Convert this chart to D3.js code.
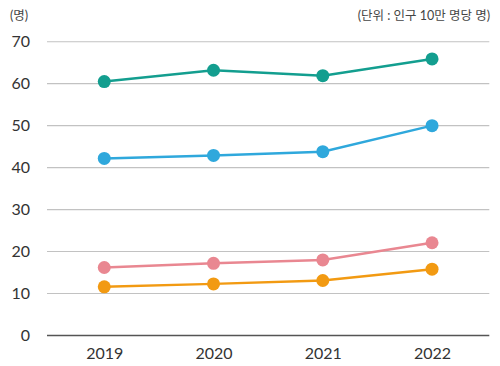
<!DOCTYPE html>
<html><head><meta charset="utf-8">
<script src="https://cdn.jsdelivr.net/npm/d3@7"></script>
<style>body{margin:0;background:#fff;} text{font-family:Lato,"Noto Sans CJK KR",sans-serif;}</style>
</head><body>
<svg id="c" width="500" height="366"></svg>
<script>
const years = ["2019","2020","2021","2022"];
const yTicks = [0,10,20,30,40,50,60,70];
const seriesTeal = [60.5, 63.2, 61.9, 65.9];
const seriesBlue = [42.2, 42.9, 43.8, 50.0];
const seriesPink = [16.2, 17.2, 18.0, 22.1];
const seriesOrange = [11.6, 12.3, 13.1, 15.8];
const colors = ["#139e8f", "#2fa8dc", "#e98791", "#f29a12"];
const unitLabel = "(명)";
const noteLabel = "(단위 : 인구 10만 명당 명)";

const svg = d3.select("#c");
const x = d3.scalePoint().domain(years).range([47, 489.3]).padding(0.524);
const y = d3.scaleLinear().domain([0,70]).range([335.5, 41.7]);

// gridlines
svg.append("g").selectAll("line").data(yTicks).join("line")
  .attr("x1", 47).attr("x2", 489.3)
  .attr("y1", d => y(d)).attr("y2", d => y(d))
  .attr("stroke", d => d === 0 ? "#555" : "#c2c2c2")
  .attr("stroke-width", d => d === 0 ? 1.3 : 1.1);

// y labels
const yAxis = d3.axisLeft(y).tickValues(yTicks).tickSize(0).tickPadding(0);
const ya = svg.append("g").attr("transform","translate(30,0)").call(yAxis);
ya.select(".domain").remove();
ya.selectAll("text").attr("font-size", 16).attr("fill", "#333").attr("font-family","Lato,sans-serif");

// x labels
const xAxis = d3.axisBottom(x).tickSize(0).tickPadding(0);
const xa = svg.append("g").attr("transform","translate(0,347.5)").call(xAxis);
xa.select(".domain").remove();
xa.selectAll("text").attr("font-size", 16).attr("fill", "#333").attr("font-family","Lato,sans-serif");

const all = [seriesTeal, seriesBlue, seriesPink, seriesOrange];
const line = d3.line().x((d,i) => x(years[i])).y(d => y(d));
all.forEach((s, k) => {
  const g = svg.append("g");
  g.append("path").attr("d", line(s)).attr("fill","none")
    .attr("stroke", colors[k]).attr("stroke-width", 2.5);
  g.selectAll("circle").data(s).join("circle")
    .attr("cx", (d,i) => x(years[i])).attr("cy", d => y(d)).attr("r", 6.5)
    .attr("fill", colors[k]);
});

svg.append("text").attr("x", 10).attr("y", 20).attr("font-size", 12.5).attr("fill","#444")
  .attr("font-family","'Noto Sans CJK KR',sans-serif").text(unitLabel);
svg.append("text").attr("x", 490).attr("y", 20).attr("text-anchor","end").attr("font-size", 12.5).attr("fill","#444")
  .attr("font-family","'Noto Sans CJK KR',sans-serif").text(noteLabel);
</script>
</body></html>
